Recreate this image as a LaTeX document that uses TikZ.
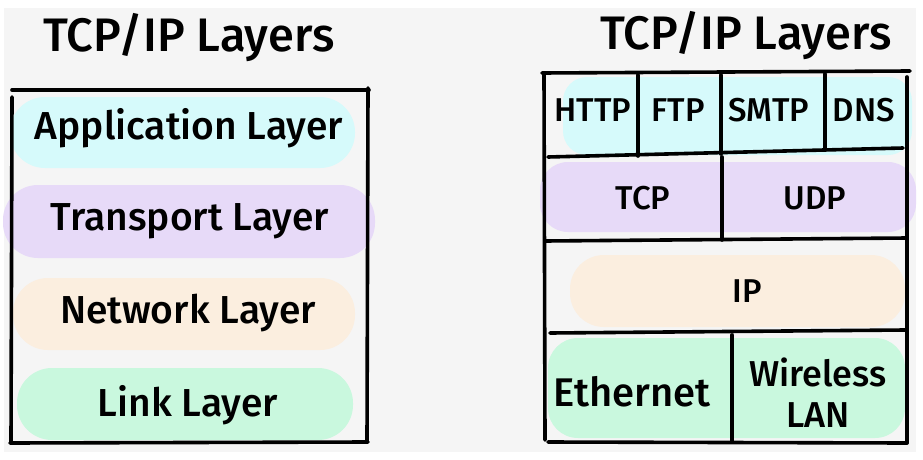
\documentclass[tikz,border=0pt]{standalone}
\usepackage{fontspec}
\setmainfont{Fira Sans}[UprightFont={* Medium}]
\definecolor{bgc}{HTML}{F5F5F5}
\definecolor{appc}{HTML}{D6FAFB}
\definecolor{trc}{HTML}{E7DAF8}
\definecolor{netc}{HTML}{FBEEDF}
\definecolor{lnkc}{HTML}{C9F8DE}
\tikzset{
  pill/.style={draw=none, rounded corners=35pt, inner sep=0pt},
  ttl/.style={font=\fontsize{47}{50}\selectfont, inner sep=0pt},
  lay/.style={font=\fontsize{39}{42}\selectfont, inner sep=0pt},
  cell/.style={font=\fontsize{33}{36}\selectfont, inner sep=0pt},
  bigcell/.style={font=\fontsize{40}{42}\selectfont, inner sep=0pt},
  frame/.style={line width=3.6pt, line cap=round, black}
}
\begin{document}
\begin{tikzpicture}[x=1pt,y=-1pt]
\useasboundingbox (0,0) rectangle (923,460);
\fill[white] (0,0) rectangle (923,460);
\fill[bgc] (4,8) rectangle (916,452);

% ---------- left panel ----------
\node[pill, fill=appc, minimum width=345pt, minimum height=71pt] (appbg) at (182.5,132.5) {};
\node[pill, fill=trc,  minimum width=372pt, minimum height=73pt] (trbg)  at (189,221.5) {};
\node[pill, fill=netc, minimum width=342pt, minimum height=72pt] (netbg) at (184,314) {};
\node[pill, fill=lnkc, minimum width=336pt, minimum height=72pt] (lnkbg) at (185,404) {};

\node[ttl] (ltitle) at (189,38) {TCP/IP Layers};
\node[lay] (app) at (189,128) {Application Layer};
\node[lay] (tr)  at (190,221) {Transport Layer};
\node[lay] (net) at (188,313) {Network Layer};
\node[lay] (lnk) at (188,405) {Link Layer};

\draw[frame] (12,90) -- (369,90);
\draw[frame] (12,97) -- (11,443);
\draw[frame] (368,88) -- (367,441);
\draw[frame] (10,443) -- (368,442);

% ---------- right panel ----------
\fill[appc, rounded corners=24pt] (563,77) rectangle (912,155);
\fill[trc, rounded corners=28pt] (540,162) rectangle (916,232);
\fill[netc, rounded corners=34pt] (570,255) rectangle (905,327);
\fill[lnkc, rounded corners=30pt] (548,338) rectangle (905,438);

\node[ttl] (rtitle) at (746,36) {TCP/IP Layers};
\node[cell] (http) at (593,110) {HTTP};
\node[cell] (ftp)  at (678,110) {FTP};
\node[cell] (smtp) at (769,110) {SMTP};
\node[cell] (dns)  at (864,110) {DNS};
\node[cell] (tcp)  at (643,198) {TCP};
\node[cell] (udp)  at (815,198) {UDP};
\node[cell] (ip)   at (747,291) {IP};
\node[bigcell] (eth)  at (632,392) {Ethernet};
\node[font=\fontsize{36}{41}\selectfont, inner sep=0pt, align=center] (wl) at (818,393) {Wireless\\LAN};

\draw[frame] (542,73) -- (910,71);
\draw[frame] (544,75) -- (545,440);
\draw[frame] (907,77) -- (907,443);
\draw[frame] (548,442) -- (907,443);
\draw[frame] (548,157) -- (903,148);
\draw[frame] (545,241) -- (907,238);
\draw[frame] (550,333) -- (905,330);
\draw[frame] (638,75) -- (638,156);
\draw[frame] (721,75) -- (721,154);
\draw[frame] (825,74) -- (825,150);
\draw[frame] (722,157) -- (722,240);
\draw[frame] (732,335) -- (732,442);
\end{tikzpicture}
\end{document}
